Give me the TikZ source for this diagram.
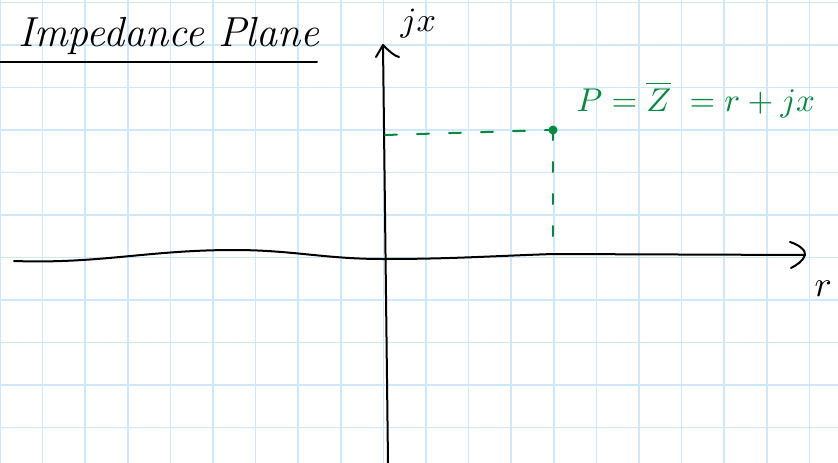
\documentclass[tikz,border=0pt]{standalone}
\usetikzlibrary{arrows.meta}
\definecolor{gridblue}{RGB}{206,232,250}
\definecolor{inkgreen}{RGB}{0,140,62}
\begin{document}
\begin{tikzpicture}[x=1pt,y=-1pt,
  gridline/.style={gridblue, line width=1.5pt},
  ink/.style={black, line width=2pt, line cap=round, line join=round},
  greenink/.style={inkgreen, line width=2pt, line cap=round},
  greendash/.style={greenink, dash pattern=on 12pt off 20pt},
  lbl/.style={inner sep=0pt, anchor=base west}]
\fill[white] (0,0) rectangle (838,463);
\useasboundingbox (0,0) rectangle (838,463);
% grid paper
\foreach \i in {0,...,19} \draw[gridline] (42.6*\i,0) -- (42.6*\i,463);
\foreach \j in {0,...,10} \draw[gridline] (0,2.7+42.5*\j) -- (838,2.7+42.5*\j);
% title
\node[lbl] (title) at (18,46) {\fontsize{42}{46}\selectfont\itshape Impedance\hspace{14pt}Plane};
\coordinate (ulA) at (0,62);
\coordinate (ulB) at (317,62);
\draw[ink] (ulA) -- (ulB);
% axes
\coordinate (ybot) at (388,463);
\coordinate (ytop) at (383,45);
\coordinate (xleft) at (14,261);
\coordinate (xmid) at (234,250);
\coordinate (orig) at (383,259);
\coordinate (xfoot) at (553,254);
\coordinate (xright) at (805,255);
\draw[ink] (ybot) -- (ytop);
\draw[ink] (376,57) -- (ytop) .. controls (388,50) and (394,56) .. (399,57);
\draw[ink] (xleft) to[out=-2,in=180] (xmid) to[out=0,in=180] (orig) to[out=0,in=182] (xfoot) -- (xright);
\draw[ink] (790,242) .. controls (800,245) and (806,251) .. (xright) .. controls (803,261) and (797,265) .. (791,268);
\node[lbl, scale=3.4] (jx) at (400,31) {$jx$};
\node[lbl, scale=3.6] (r) at (814,296) {$r$};
% point P
\coordinate (P) at (553,130);
\coordinate (Py) at (385,135);
\draw[greendash] (Py) -- (P);
\draw[greendash, dash pattern=on 10pt off 22pt] (P) -- (xfoot);
\fill[inkgreen] (P) circle (4.5);
\node[lbl, text=inkgreen, scale=3.3] (eq) at (576,111) {$P = \overline{Z} \;= r + jx$};
\end{tikzpicture}
\end{document}
